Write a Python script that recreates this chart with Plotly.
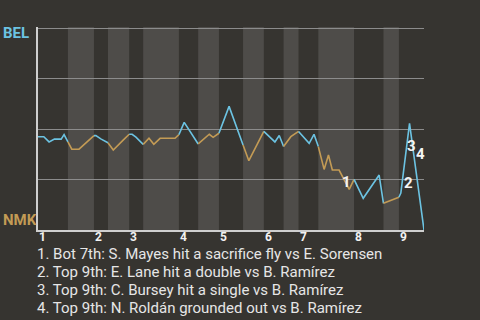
import plotly.graph_objects as go

# Play-by-play win probability for BEL (0 = NMK wins, 1 = BEL wins), x = plate appearance index
play_x = [0.2, 1.2, 2.3, 3.4, 4.8, 5.4, 6.2, 7.0, 8.5, 11.6, 12.0, 13.1, 14.5, 15.6, 17.7,
          18.9, 19.5, 20.3, 21.8, 23.0, 24.0, 25.3, 28.4, 29.2, 30.3, 33.2, 35.5, 36.3, 37.5,
          39.6, 42.5, 43.7, 46.8, 49.1, 50.0, 50.9, 52.4, 54.0, 56.2, 57.2, 58.1, 59.3, 60.2,
          61.0, 62.4, 63.8, 64.5, 65.5, 67.4, 70.7, 71.6, 74.8, 75.2, 77.0, 80.0]
win_prob = [0.462, 0.462, 0.436, 0.450, 0.450, 0.472, 0.436, 0.400, 0.400, 0.467, 0.467, 0.450,
            0.432, 0.396, 0.446, 0.474, 0.474, 0.460, 0.424, 0.454, 0.424, 0.454, 0.454, 0.472,
            0.533, 0.426, 0.474, 0.459, 0.479, 0.612, 0.421, 0.343, 0.488, 0.436, 0.468, 0.413,
            0.462, 0.488, 0.429, 0.474, 0.413, 0.300, 0.371, 0.297, 0.297, 0.231, 0.201, 0.251,
            0.157, 0.272, 0.132, 0.162, 0.183, 0.528, 0.0]

# Half-inning boundaries (top, bottom, top, ...) on the same play index scale
half_edges = [0, 6.2, 11.6, 14.5, 18.9, 21.8, 29.2, 33.2, 37.5, 42.5, 46.8, 50.9, 54.0,
              58.1, 65.5, 71.6, 74.8, 80]
inning_labels = ["1", "2", "3", "4", "5", "6", "7", "8", "9"]

# Key plays
event_x = [64.0, 76.7, 77.5, 79.2]
event_y = [0.238, 0.233, 0.416, 0.376]
event_notes = [
    "1. Bot 7th: S. Mayes hit a sacrifice fly vs E. Sorensen",
    "2. Top 9th: E. Lane hit a double vs B. Ramírez",
    "3. Top 9th: C. Bursey hit a single vs B. Ramírez",
    "4. Top 9th: N. Roldán grounded out vs B. Ramírez",
]

away_team, home_team = "BEL", "NMK"
BLUE = "#6cc3e2"
GOLD = "#c39b55"
BG = "#363430"
BAND = "#4e4c49"
FONT = "Roboto"

fig = go.Figure()

# Line segments coloured by batting side of each half inning
for k in range(len(half_edges) - 1):
    a, b = half_edges[k], half_edges[k + 1]
    xs = [x for x in play_x if a - 1e-9 <= x <= b + 1e-9]
    ys = [y for x, y in zip(play_x, win_prob) if a - 1e-9 <= x <= b + 1e-9]
    if k == 0:
        xs = [0.0] + xs
        ys = [win_prob[0]] + ys
    fig.add_trace(go.Scatter(
        x=xs, y=ys, mode="lines",
        line=dict(color=BLUE if k % 2 == 0 else GOLD, width=1.6),
        hoverinfo="skip", showlegend=False,
    ))

shapes = []
for k in range(1, len(half_edges) - 1, 2):
    shapes.append(dict(type="rect", xref="x", yref="paper",
                       x0=half_edges[k], x1=half_edges[k + 1], y0=0, y1=1,
                       fillcolor=BAND, line=dict(width=0), layer="below"))

annotations = []
for i, lab in enumerate(inning_labels):
    annotations.append(dict(x=half_edges[2 * i], y=0, xref="x", yref="paper",
                            text=lab, showarrow=False, xanchor="left", yanchor="middle",
                            xshift=1, yshift=-7, borderpad=0, borderwidth=0,
                            font=dict(family=FONT, size=12, color="#f2f2f2", weight="bold")))

for i, (ex, ey) in enumerate(zip(event_x, event_y)):
    annotations.append(dict(x=ex, y=ey, xref="x", yref="y", text=str(i + 1),
                            showarrow=False, xanchor="center", yanchor="middle",
                            font=dict(family=FONT, size=15, color="#f4f4f4", weight="bold")))

for i, note in enumerate(event_notes):
    annotations.append(dict(x=0, y=0, xref="paper", yref="paper", text=note,
                            showarrow=False, xanchor="left", yanchor="middle",
                            xshift=-1, yshift=-23.5 - 18 * i, borderpad=0, borderwidth=0,
                            font=dict(family=FONT, size=15, color="#e6e6e6")))

annotations.append(dict(x=0, y=1, xref="paper", yref="paper", text=away_team,
                        showarrow=False, xanchor="left", yanchor="middle",
                        xshift=-37, yshift=-6,
                        font=dict(family=FONT, size=15, color=BLUE, weight="bold")))
annotations.append(dict(x=0, y=0, xref="paper", yref="paper", text=home_team,
                        showarrow=False, xanchor="left", yanchor="middle",
                        xshift=-37, yshift=10,
                        font=dict(family=FONT, size=15, color=GOLD, weight="bold")))

fig.update_layout(
    width=480, height=320,
    margin=dict(l=38, r=56, t=27, b=90),
    paper_bgcolor=BG, plot_bgcolor=BG,
    shapes=shapes, annotations=annotations,
    font=dict(family=FONT),
    xaxis=dict(range=[0, 80], showgrid=False, zeroline=False, showticklabels=False,
               showline=True, linecolor="#cfcfcf", linewidth=2, ticks=""),
    yaxis=dict(range=[0, 1.005], tickvals=[0.25, 0.5, 0.75, 1.0], showgrid=True,
               gridcolor="#8c8c8c", gridwidth=1, zeroline=False, showticklabels=False,
               showline=True, linecolor="#cfcfcf", linewidth=1.5, ticks=""),
)

fig.write_html("out.html")
